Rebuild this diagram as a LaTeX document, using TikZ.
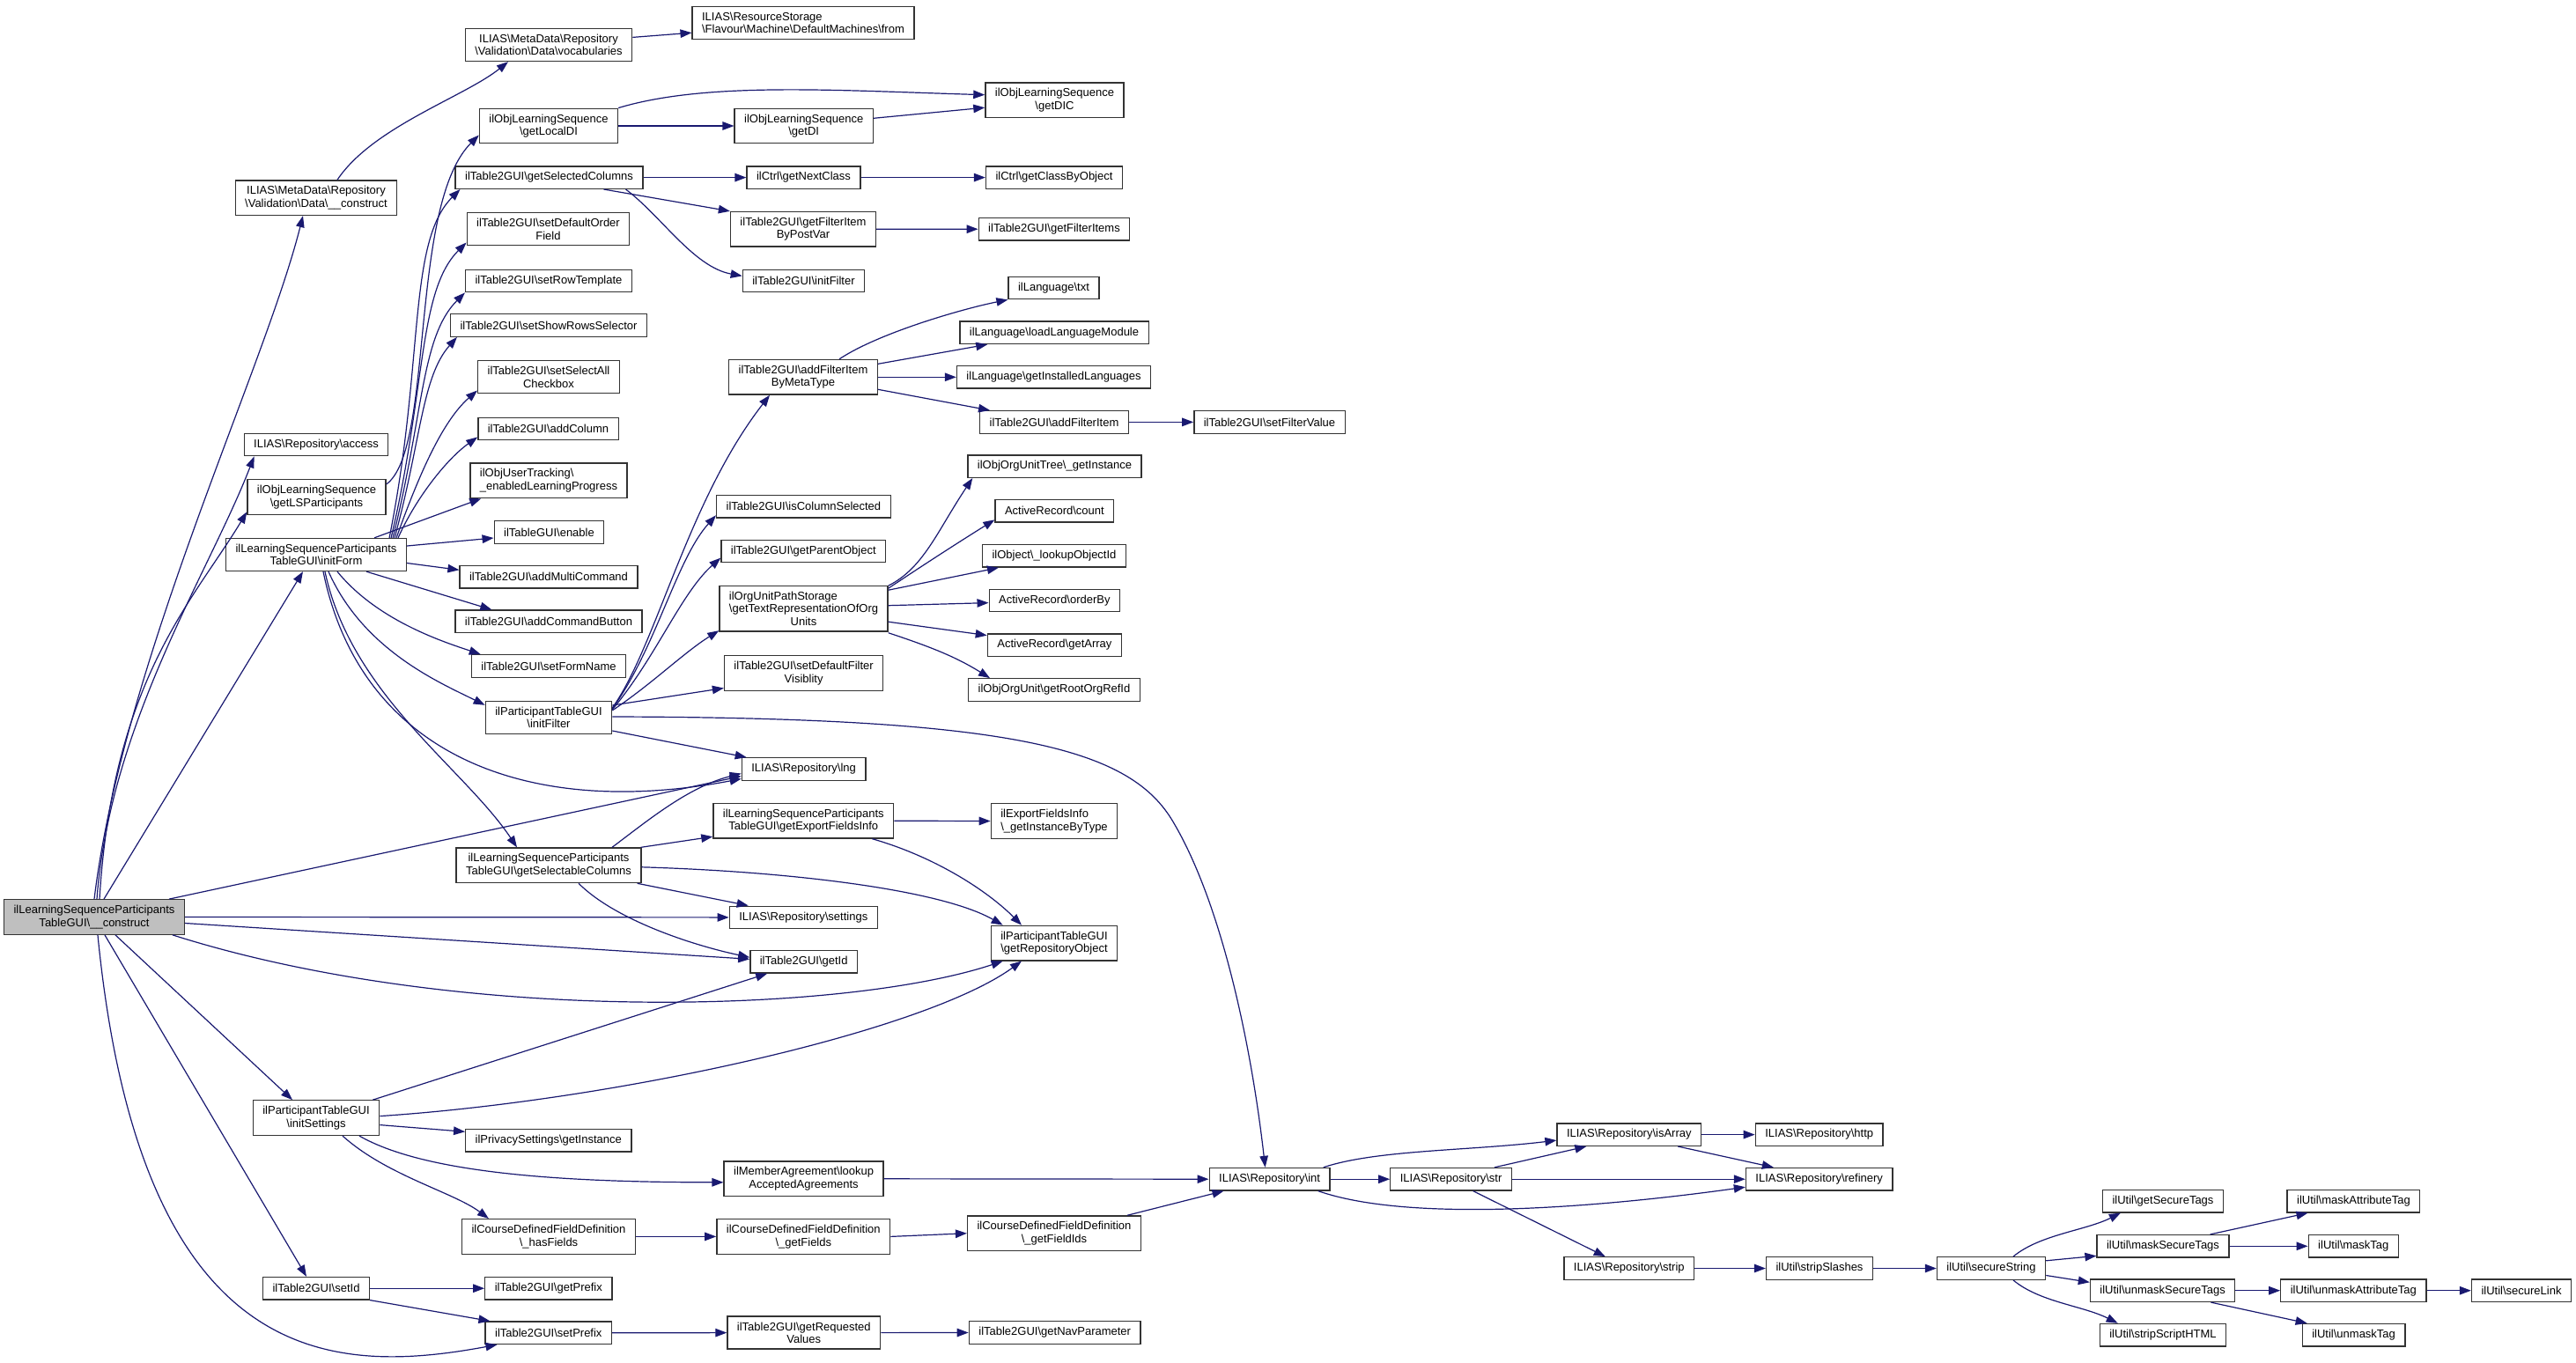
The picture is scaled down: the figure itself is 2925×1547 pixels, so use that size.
\documentclass[tikz,border=0pt]{standalone}
\usepackage{fontspec}
\setmainfont{Liberation Sans}
\usetikzlibrary{arrows.meta}
\definecolor{edgeblue}{HTML}{191970}
\definecolor{rootgray}{HTML}{BFBFBF}
\newcommand{\bsl}{\textbackslash}
\newlength{\firstlinewd}
\newcommand{\firstleft}[2]{\settowidth{\firstlinewd}{#2}\makebox[\firstlinewd][l]{#1}\\#2}

\begin{document}
\begin{tikzpicture}[x=1pt,y=-1pt,
    fnbox/.style={draw=black!80,line width=1.3pt,fill=white,inner xsep=11pt,inner ysep=6.5pt,
        minimum height=25.5pt,align=center,font=\fontsize{13}{14.5}\selectfont},
    rootbox/.style={fnbox,fill=rootgray},
    callarrow/.style={draw=edgeblue,line width=1.2pt,-{Triangle[length=13pt,width=9.5pt]}}]
    \useasboundingbox (0,0) rectangle (2925,1547);
    \node[rootbox] (M) at (107,1041.5) {ilLearningSequenceParticipants\\TableGUI\bsl\_\_construct};
    \node[fnbox] (vcons) at (359,224.7) {ILIAS\bsl MetaData\bsl Repository\\\bsl Validation\bsl Data\bsl\_\_construct};
    \node[fnbox] (access) at (359,505) {ILIAS\bsl Repository\bsl access};
    \node[fnbox] (getLS) at (359.5,564.4) {ilObjLearningSequence\\\bsl getLSParticipants};
    \node[fnbox] (initForm) at (359,630) {ilLearningSequenceParticipants\\TableGUI\bsl initForm};
    \node[fnbox] (initSettings) at (359,1269.6) {ilParticipantTableGUI\\\bsl initSettings};
    \node[fnbox] (setId) at (359,1463.2) {ilTable2GUI\bsl setId};
    \node[fnbox] (vocab) at (623,51) {ILIAS\bsl MetaData\bsl Repository\\\bsl Validation\bsl Data\bsl vocabularies};
    \node[fnbox] (getLocalDI) at (623,143) {ilObjLearningSequence\\\bsl getLocalDI};
    \node[fnbox] (getSelCols) at (623.5,201.6) {ilTable2GUI\bsl getSelectedColumns};
    \node[fnbox] (setDefOrder) at (622.5,260.3) {ilTable2GUI\bsl setDefaultOrder\\Field};
    \node[fnbox] (setRowTpl) at (623,319) {ilTable2GUI\bsl setRowTemplate};
    \node[fnbox] (setShowRows) at (623,369.5) {ilTable2GUI\bsl setShowRowsSelector};
    \node[fnbox] (setSelAll) at (623,428.3) {ilTable2GUI\bsl setSelectAll\\Checkbox};
    \node[fnbox] (addColumn) at (622.5,487) {ilTable2GUI\bsl addColumn};
    \node[fnbox] (userTrack) at (623,545.8) {\firstleft{ilObjUserTracking\bsl}{\_enabledLearningProgress}};
    \node[fnbox] (enable) at (623.5,604.5) {ilTableGUI\bsl enable};
    \node[fnbox] (addMulti) at (623,655.3) {ilTable2GUI\bsl addMultiCommand};
    \node[fnbox] (addCmdBtn) at (623,705.8) {ilTable2GUI\bsl addCommandButton};
    \node[fnbox] (setFormName) at (623,756.5) {ilTable2GUI\bsl setFormName};
    \node[fnbox] (pInitFilter) at (623,815) {ilParticipantTableGUI\\\bsl initFilter};
    \node[fnbox] (getSelectable) at (623,982.8) {ilLearningSequenceParticipants\\TableGUI\bsl getSelectableColumns};
    \node[fnbox] (privacy) at (622.8,1295.3) {ilPrivacySettings\bsl getInstance};
    \node[fnbox] (hasFields) at (623,1404.4) {ilCourseDefinedFieldDefinition\\\bsl\_hasFields};
    \node[fnbox] (getPrefix) at (622.8,1463.2) {ilTable2GUI\bsl getPrefix};
    \node[fnbox] (setPrefix) at (622.8,1513.8) {ilTable2GUI\bsl setPrefix};
    \node[fnbox] (resFrom) at (912,25.9) {\firstleft{ILIAS\bsl ResourceStorage}{\bsl Flavour\bsl Machine\bsl DefaultMachines\bsl from}};
    \node[fnbox] (getDI) at (912.7,143) {ilObjLearningSequence\\\bsl getDI};
    \node[fnbox] (getNextClass) at (912.5,201.6) {ilCtrl\bsl getNextClass};
    \node[fnbox] (getFilterByPost) at (912,260.3) {ilTable2GUI\bsl getFilterItem\\ByPostVar};
    \node[fnbox] (tInitFilter) at (912.5,319) {ilTable2GUI\bsl initFilter};
    \node[fnbox] (addFilterMeta) at (912,428.3) {ilTable2GUI\bsl addFilterItem\\ByMetaType};
    \node[fnbox] (isColSel) at (912.4,575.3) {ilTable2GUI\bsl isColumnSelected};
    \node[fnbox] (getParent) at (912.3,626) {ilTable2GUI\bsl getParentObject};
    \node[fnbox] (getTextRep) at (912.5,691.2) {\firstleft{ilOrgUnitPathStorage}{\bsl getTextRepresentationOfOrg}\\Units};
    \node[fnbox] (setDefFilter) at (912.6,764.5) {ilTable2GUI\bsl setDefaultFilter\\Visiblity};
    \node[fnbox] (lng) at (912.6,873.5) {ILIAS\bsl Repository\bsl lng};
    \node[fnbox] (getExport) at (912.3,932.2) {ilLearningSequenceParticipants\\TableGUI\bsl getExportFieldsInfo};
    \node[fnbox] (settings) at (912.3,1041.9) {ILIAS\bsl Repository\bsl settings};
    \node[fnbox] (getId) at (912.7,1092.3) {ilTable2GUI\bsl getId};
    \node[fnbox] (lookupAgr) at (912.6,1338.8) {ilMemberAgreement\bsl lookup\\AcceptedAgreements};
    \node[fnbox] (getFields) at (912.3,1404.4) {ilCourseDefinedFieldDefinition\\\bsl\_getFields};
    \node[fnbox] (getReqVal) at (912.8,1513.6) {ilTable2GUI\bsl getRequested\\Values};
    \node[fnbox] (getDIC) at (1197.5,113.7) {ilObjLearningSequence\\\bsl getDIC};
    \node[fnbox] (getClassByObj) at (1197,201.6) {ilCtrl\bsl getClassByObject};
    \node[fnbox] (getFilterItems) at (1197,260.2) {ilTable2GUI\bsl getFilterItems};
    \node[fnbox] (txt) at (1196.5,327) {ilLanguage\bsl txt};
    \node[fnbox] (loadLang) at (1197,377.8) {ilLanguage\bsl loadLanguageModule};
    \node[fnbox] (getInstLang) at (1196.5,428.3) {ilLanguage\bsl getInstalledLanguages};
    \node[fnbox] (addFilterItem) at (1197,479.4) {ilTable2GUI\bsl addFilterItem};
    \node[fnbox] (orgTree) at (1197.5,529.6) {ilObjOrgUnitTree\bsl\_getInstance};
    \node[fnbox] (arCount) at (1197.4,580.3) {ActiveRecord\bsl count};
    \node[fnbox] (lookupObjId) at (1197,631.3) {ilObject\bsl\_lookupObjectId};
    \node[fnbox] (orderBy) at (1197.4,681.9) {ActiveRecord\bsl orderBy};
    \node[fnbox] (getArray) at (1197.4,732.6) {ActiveRecord\bsl getArray};
    \node[fnbox] (rootOrg) at (1197,783.5) {ilObjOrgUnit\bsl getRootOrgRefId};
    \node[fnbox] (exportInfo) at (1197,932.5) {\firstleft{ilExportFieldsInfo}{\bsl\_getInstanceByType}};
    \node[fnbox] (getRepoObj) at (1197,1071.1) {ilParticipantTableGUI\\\bsl getRepositoryObject};
    \node[fnbox] (getFieldIds) at (1197,1400.7) {ilCourseDefinedFieldDefinition\\\bsl\_getFieldIds};
    \node[fnbox] (getNavParam) at (1197.7,1513.5) {ilTable2GUI\bsl getNavParameter};
    \node[fnbox] (setFilterValue) at (1441.5,479.4) {ilTable2GUI\bsl setFilterValue};
    \node[fnbox] (int) at (1441.6,1339.2) {ILIAS\bsl Repository\bsl int};
    \node[fnbox] (str) at (1647.6,1339.2) {ILIAS\bsl Repository\bsl str};
    \node[fnbox] (isArray) at (1849.8,1288.6) {ILIAS\bsl Repository\bsl isArray};
    \node[fnbox] (strip) at (1849.8,1440.5) {ILIAS\bsl Repository\bsl strip};
    \node[fnbox] (http) at (2065.7,1288.6) {ILIAS\bsl Repository\bsl http};
    \node[fnbox] (refinery) at (2065.7,1339.2) {ILIAS\bsl Repository\bsl refinery};
    \node[fnbox] (stripSlashes) at (2066,1440.5) {ilUtil\bsl stripSlashes};
    \node[fnbox] (secureString) at (2261,1440.5) {ilUtil\bsl secureString};
    \node[fnbox] (getSecureTags) at (2456,1364.2) {ilUtil\bsl getSecureTags};
    \node[fnbox] (maskSecureTags) at (2456,1415.3) {ilUtil\bsl maskSecureTags};
    \node[fnbox] (unmaskSecureTags) at (2455.6,1465.7) {ilUtil\bsl unmaskSecureTags};
    \node[fnbox] (stripScriptHTML) at (2456,1516.2) {ilUtil\bsl stripScriptHTML};
    \node[fnbox] (maskAttributeTag) at (2672.4,1364.2) {ilUtil\bsl maskAttributeTag};
    \node[fnbox] (maskTag) at (2672.3,1415.3) {ilUtil\bsl maskTag};
    \node[fnbox] (unmaskAttributeTag) at (2672.3,1465.7) {ilUtil\bsl unmaskAttributeTag};
    \node[fnbox] (unmaskTag) at (2672.6,1516.2) {ilUtil\bsl unmaskTag};
    \node[fnbox] (secureLink) at (2863,1465.7) {ilUtil\bsl secureLink};
    \draw[callarrow] (M.north) .. controls +(33,-271) and +(-44,175) .. ([xshift=-15pt]vcons.south);
    \draw[callarrow] ([xshift=3pt]M.north) .. controls +(15,-200) and +(-50,130) .. ([xshift=12pt]access.south west);
    \draw[callarrow] ([xshift=6pt]M.north) .. controls +(15,-250) and +(-60,100) .. ([yshift=-17pt]getLS.west);
    \draw[callarrow] ([xshift=11pt]M.north) -- ([xshift=-15pt]initForm.south);
    \draw[callarrow] ([xshift=-18pt]M.north east) -- ([yshift=-8pt]lng.west);
    \draw[callarrow] (M.east) -- (settings.west);
    \draw[callarrow] ([yshift=-7pt]M.east) -- ([yshift=3pt]getId.west);
    \draw[callarrow] ([xshift=-14pt]M.south east) .. controls +(325,103) and +(-178,59) .. ([xshift=14pt]getRepoObj.south west);
    \draw[callarrow] ([xshift=24pt]M.south) -- ([xshift=-27pt]initSettings.north);
    \draw[callarrow] ([xshift=12pt]M.south) -- ([xshift=-11pt]setId.north);
    \draw[callarrow] ([xshift=4pt]M.south) .. controls +(49,498) and +(-184,34) .. ([xshift=14pt]setPrefix.south west);
    \draw[callarrow] ([xshift=24pt]vcons.north) .. controls +(40,-60) and +(-50,40) .. ([xshift=-46pt]vocab.south);
    \draw[callarrow] ([yshift=8.6pt]vocab.east) -- ([yshift=-11.3pt]resFrom.west);
    \draw[callarrow] ([yshift=-6pt]getLS.north east) .. controls +(55,-40) and +(-80,80) .. ([yshift=10pt]getLocalDI.south west);
    \draw[callarrow] ([xshift=-20pt]initForm.north east) .. controls +(40,-200) and +(-60,60) .. ([xshift=6pt]getSelCols.south west);
    \draw[callarrow] ([xshift=-18pt]initForm.north east) .. controls +(40,-170) and +(-55,55) .. ([yshift=4pt]setDefOrder.south west);
    \draw[callarrow] ([xshift=-16pt]initForm.north east) .. controls +(35,-140) and +(-50,50) .. (setRowTpl.south west);
    \draw[callarrow] ([xshift=-14pt]initForm.north east) .. controls +(30,-110) and +(-40,45) .. ([xshift=8pt]setShowRows.south west);
    \draw[callarrow] ([xshift=-12pt]initForm.north east) .. controls +(25,-70) and +(-40,35) .. ([yshift=4pt]setSelAll.south west);
    \draw[callarrow] ([xshift=-10pt]initForm.north east) .. controls +(20,-45) and +(-35,25) .. ([yshift=4pt]addColumn.south west);
    \draw[callarrow] ([xshift=-37pt]initForm.north east) -- ([xshift=13pt]userTrack.south west);
    \draw[callarrow] ([yshift=10pt]initForm.east) -- ([yshift=-6.5pt]enable.west);
    \draw[callarrow] ([yshift=-9.5pt]initForm.east) -- ([yshift=8pt]addMulti.west);
    \draw[callarrow] ([xshift=-46pt]initForm.south east) -- ([xshift=42pt]addCmdBtn.north west);
    \draw[callarrow] ([xshift=24pt]initForm.south) .. controls +(45,55) and +(-45,-15) .. ([xshift=11pt]setFormName.north west);
    \draw[callarrow] ([xshift=14pt]initForm.south) .. controls +(40,90) and +(-50,-25) .. ([yshift=-5pt]pInitFilter.north west);
    \draw[callarrow] ([xshift=8pt]initForm.south) .. controls +(43,209) and +(-242,46) .. ([yshift=-11pt]lng.west);
    \draw[callarrow] ([xshift=10pt]initForm.south) .. controls +(30,140) and +(-60,-90) .. ([xshift=-36pt]getSelectable.north);
    \draw[callarrow] ([yshift=-8pt]pInitFilter.north east) .. controls +(50,-70) and +(-94,121) .. ([xshift=-38pt]addFilterMeta.south);
    \draw[callarrow] ([yshift=-9pt]pInitFilter.north east) .. controls +(50,-70) and +(-45,50) .. ([yshift=-10pt]isColSel.west);
    \draw[callarrow] ([yshift=-10pt]pInitFilter.north east) .. controls +(50,-60) and +(-45,40) .. ([yshift=-7.6pt]getParent.west);
    \draw[callarrow] ([yshift=-11pt]pInitFilter.north east) .. controls +(45,-30) and +(-40,25) .. ([yshift=-25pt]getTextRep.west);
    \draw[callarrow] ([yshift=14pt]pInitFilter.east) -- ([yshift=-17pt]setDefFilter.west);
    \draw[callarrow] ([yshift=1pt]pInitFilter.east) .. controls (1150,815) and (1280,850) .. (1330,930) .. controls (1385,1020) and (1420,1180) .. ([xshift=-5pt]int.north);
    \draw[callarrow] ([yshift=-15pt]pInitFilter.east) -- ([xshift=6pt]lng.north west);
    \draw[callarrow] (getSelCols.east) -- (getNextClass.west);
    \draw[callarrow] ([xshift=-45pt]getSelCols.south east) -- (getFilterByPost.north west);
    \draw[callarrow] ([xshift=-20pt]getSelCols.south east) .. controls +(40,30) and +(-55,-10) .. ([yshift=5.6pt]tInitFilter.west);
    \draw[callarrow] (getLocalDI.east) -- (getDI.west);
    \draw[callarrow] (getLocalDI.north east) .. controls +(100,-30) and +(-170,-5) .. ([yshift=6pt]getDIC.west);
    \draw[callarrow] ([yshift=8.7pt]getDI.east) -- ([yshift=-8.5pt]getDIC.west);
    \draw[callarrow] (getNextClass.east) -- (getClassByObj.west);
    \draw[callarrow] (getFilterByPost.east) -- (getFilterItems.west);
    \draw[callarrow] ([xshift=41pt]addFilterMeta.north) .. controls +(45,-30) and +(-50,10) .. (txt.south west);
    \draw[callarrow] ([yshift=15pt]addFilterMeta.east) -- ([xshift=32pt]loadLang.south west);
    \draw[callarrow] (addFilterMeta.east) -- (getInstLang.west);
    \draw[callarrow] ([yshift=-14pt]addFilterMeta.east) -- ([xshift=12pt]addFilterItem.north west);
    \draw[callarrow] (addFilterItem.east) -- (setFilterValue.west);
    \draw[callarrow] ([yshift=26pt]getTextRep.east) .. controls +(40,-20) and +(-40,60) .. ([xshift=6pt]orgTree.south west);
    \draw[callarrow] ([yshift=23pt]getTextRep.east) .. controls +(45,-30) and +(-40,25) .. ([yshift=-10pt]arCount.west);
    \draw[callarrow] ([yshift=21pt]getTextRep.east) -- ([xshift=19pt]lookupObjId.south west);
    \draw[callarrow] ([yshift=3.5pt]getTextRep.east) -- ([yshift=-2.7pt]orderBy.west);
    \draw[callarrow] ([yshift=-15pt]getTextRep.east) -- ([yshift=11pt]getArray.west);
    \draw[callarrow] ([yshift=-27.5pt]getTextRep.east) .. controls +(45,15) and +(-40,-25) .. ([xshift=25pt]rootOrg.north west);
    \draw[callarrow] ([xshift=72pt]getSelectable.north) .. controls +(40,-30) and +(-60,15) .. ([yshift=-5pt]lng.west);
    \draw[callarrow] ([xshift=-1pt]getSelectable.north east) -- ([yshift=-18pt]getExport.west);
    \draw[callarrow] ([yshift=-2pt]getSelectable.east) .. controls +(170,5) and +(-70,-40) .. ([xshift=14pt]getRepoObj.north west);
    \draw[callarrow] ([xshift=-5pt]getSelectable.south east) -- ([xshift=22pt]settings.north west);
    \draw[callarrow] ([xshift=34pt]getSelectable.south) .. controls +(40,40) and +(-70,-15) .. ([yshift=5pt]getId.west);
    \draw[callarrow] (getExport.east) -- (exportInfo.west);
    \draw[callarrow] ([xshift=-25pt]getExport.south east) .. controls +(70,20) and +(-40,-40) .. ([xshift=-37pt]getRepoObj.north);
    \draw[callarrow] ([xshift=-8pt]initSettings.north east) -- ([xshift=20pt]getId.south west);
    \draw[callarrow] ([yshift=2pt]initSettings.east) .. controls +(270,-18) and +(-110,80) .. ([xshift=-37pt]getRepoObj.south);
    \draw[callarrow] ([yshift=-8pt]initSettings.east) -- ([yshift=10pt]privacy.west);
    \draw[callarrow] ([xshift=49pt]initSettings.south) .. controls +(70,40) and +(-200,0) .. ([yshift=-4pt]lookupAgr.west);
    \draw[callarrow] ([xshift=30pt]initSettings.south) .. controls +(50,45) and +(-40,-30) .. ([xshift=31pt]hasFields.north west);
    \draw[callarrow] (hasFields.east) -- (getFields.west);
    \draw[callarrow] (getFields.east) -- (getFieldIds.west);
    \draw[callarrow] ([xshift=-16pt]getFieldIds.north east) -- ([xshift=17pt]int.south west);
    \draw[callarrow] (lookupAgr.east) -- (int.west);
    \draw[callarrow] ([xshift=-8pt]int.north east) .. controls +(60,-20) and +(-100,12) .. ([yshift=-6.5pt]isArray.west);
    \draw[callarrow] (int.east) -- (str.west);
    \draw[callarrow] ([xshift=-14pt]int.south east) .. controls +(100,35) and +(-180,25) .. ([yshift=-9pt]refinery.west);
    \draw[callarrow] ([xshift=-20pt]str.north east) -- ([xshift=34pt]isArray.south west);
    \draw[callarrow] (str.east) -- (refinery.west);
    \draw[callarrow] ([xshift=25pt]str.south) -- ([xshift=-27pt]strip.north);
    \draw[callarrow] (isArray.east) -- (http.west);
    \draw[callarrow] ([xshift=-27pt]isArray.south east) -- ([xshift=32pt]refinery.north west);
    \draw[callarrow] (strip.east) -- (stripSlashes.west);
    \draw[callarrow] (stripSlashes.east) -- (secureString.west);
    \draw[callarrow] ([xshift=25pt]secureString.north) .. controls +(30,-25) and +(-40,20) .. ([xshift=21pt]getSecureTags.south west);
    \draw[callarrow] ([yshift=8.7pt]secureString.east) -- ([yshift=-11pt]maskSecureTags.west);
    \draw[callarrow] ([yshift=-8pt]secureString.east) -- ([yshift=9.4pt]unmaskSecureTags.west);
    \draw[callarrow] ([xshift=25pt]secureString.south) .. controls +(30,25) and +(-40,-20) .. ([xshift=21pt]stripScriptHTML.north west);
    \draw[callarrow] ([xshift=-22pt]maskSecureTags.north east) -- ([xshift=24pt]maskAttributeTag.south west);
    \draw[callarrow] (maskSecureTags.east) -- (maskTag.west);
    \draw[callarrow] (unmaskSecureTags.east) -- (unmaskAttributeTag.west);
    \draw[callarrow] ([xshift=-28pt]unmaskSecureTags.south east) -- ([xshift=6pt]unmaskTag.north west);
    \draw[callarrow] (unmaskAttributeTag.east) -- (secureLink.west);
    \draw[callarrow] (setId.east) -- (getPrefix.west);
    \draw[callarrow] (setId.south east) -- ([xshift=6pt]setPrefix.north west);
    \draw[callarrow] (setPrefix.east) -- (getReqVal.west);
    \draw[callarrow] (getReqVal.east) -- (getNavParam.west);
\end{tikzpicture}
\end{document}
